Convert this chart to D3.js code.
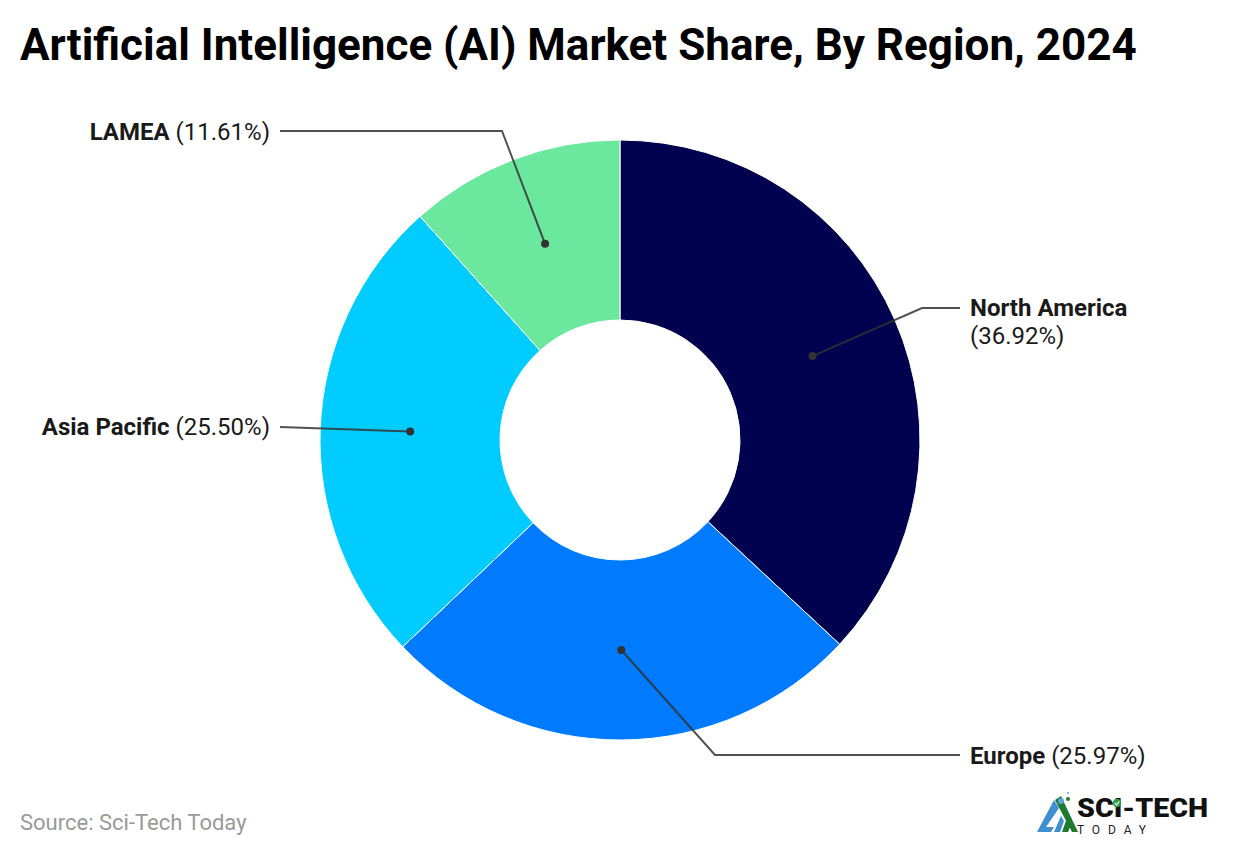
<!DOCTYPE html>
<html>
<head>
<meta charset="utf-8">
<script src="https://cdnjs.cloudflare.com/ajax/libs/d3/7.8.5/d3.min.js"></script>
<style>
  html, body { margin: 0; padding: 0; background: #fff; }
  svg { display: block; font-family: Roboto, sans-serif; }
</style>
</head>
<body>
<div id="chart"></div>
<script>
// data
var regions = ['North America', 'Europe', 'Asia Pacific', 'LAMEA'];
var shares = [36.92, 25.97, 25.50, 11.61];
var colors = ['#000250', '#007bff', '#00ccff', '#6ce89e'];

var width = 1240, height = 856;
var cx = 620, cy = 440, outer = 300, inner = 120;

// callout layout, same order as regions: bend point and end of the line next to the text
var callouts = [
  { bend: [922, 308], end: [960, 308], x: 970, y: 316, anchor: 'start', wrap: true },
  { bend: [715, 755], end: [960, 755], x: 970, y: 764, anchor: 'start' },
  { bend: null,       end: [280, 427], x: 270, y: 435, anchor: 'end' },
  { bend: [502, 131], end: [280, 131], x: 270, y: 140, anchor: 'end' }
];

var svg = d3.select('#chart').append('svg')
  .attr('width', width)
  .attr('height', height);

svg.append('text')
  .attr('x', 20).attr('y', 60)
  .attr('font-size', 44).attr('font-weight', 700).attr('fill', '#000')
  .text('Artificial Intelligence (AI) Market Share, By Region, 2024');

var pie = d3.pie().sort(null).value(function (d) { return d; });
var arcs = pie(shares);
var arc = d3.arc().innerRadius(inner).outerRadius(outer);
var dotArc = d3.arc().innerRadius(210).outerRadius(210);

var g = svg.append('g').attr('transform', 'translate(' + cx + ',' + cy + ')');

g.selectAll('path')
  .data(arcs)
  .enter()
  .append('path')
  .attr('d', arc)
  .attr('fill', function (d, i) { return colors[i]; })
  .attr('stroke', '#fff')
  .attr('stroke-width', 1);

// leader lines
var line = d3.line();
svg.selectAll('.leader')
  .data(arcs)
  .enter()
  .append('path')
  .attr('class', 'leader')
  .attr('fill', 'none')
  .attr('stroke', '#333')
  .attr('stroke-opacity', 0.85)
  .attr('stroke-width', 2)
  .attr('d', function (d, i) {
    var c = dotArc.centroid(d);
    var p = [[c[0] + cx, c[1] + cy]];
    if (callouts[i].bend) p.push(callouts[i].bend);
    p.push(callouts[i].end);
    return line(p);
  });

svg.selectAll('.dot')
  .data(arcs)
  .enter()
  .append('circle')
  .attr('class', 'dot')
  .attr('r', 4)
  .attr('fill', '#333')
  .attr('cx', function (d) { return dotArc.centroid(d)[0] + cx; })
  .attr('cy', function (d) { return dotArc.centroid(d)[1] + cy; });

// labels
regions.forEach(function (name, i) {
  var c = callouts[i];
  var pct = '(' + shares[i].toFixed(2) + '%)';
  var t = svg.append('text')
    .attr('x', c.x).attr('y', c.y)
    .attr('text-anchor', c.anchor)
    .attr('font-size', 24)
    .attr('fill', '#1a1a1a');
  t.append('tspan').attr('font-weight', 700).text(name);
  if (c.wrap) {
    t.append('tspan').attr('x', c.x).attr('dy', 28).text(pct);
  } else {
    t.append('tspan').text(' ' + pct);
  }
});

svg.append('text')
  .attr('x', 20).attr('y', 830)
  .attr('font-size', 22).attr('fill', '#999')
  .text('Source: Sci-Tech Today');

// logo, rough
var logo = svg.append('g').attr('transform', 'translate(1037,794)');
logo.append('path').attr('d', 'M0 38 L17 6 L22 14 L9 33 L17 33 L14 38 Z').attr('fill', '#3d8fd1');
logo.append('path').attr('d', 'M17 38 L24 22 L27 27 L23 38 Z').attr('fill', '#3d8fd1');
logo.append('path').attr('d', 'M18 6 L24 2 L41 38 L35 38 Z').attr('fill', '#1e7a2e');
logo.append('path').attr('d', 'M25 38 L30 24 L34 31 L31 38 Z').attr('fill', '#1e7a2e');
logo.append('circle').attr('cx', 24).attr('cy', 7).attr('r', 3).attr('fill', '#5aa6dc');
logo.append('circle').attr('cx', 31).attr('cy', 5).attr('r', 2).attr('fill', '#1e7a2e');
logo.append('circle').attr('cx', 31).attr('cy', -1).attr('r', 1).attr('fill', '#5aa6dc');
logo.append('text')
  .attr('x', 40).attr('y', 23)
  .attr('font-size', 26).attr('font-weight', 900).attr('fill', '#111')
  .attr('textLength', 131).attr('lengthAdjust', 'spacingAndGlyphs')
  .text('SCI-TECH');
logo.append('circle').attr('cx', 80).attr('cy', 9).attr('r', 4.2).attr('fill', '#2f9e3f');
logo.append('path').attr('d', 'M78 9 L79.5 10.8 L82.3 7.4')
  .attr('fill', 'none').attr('stroke', '#fff').attr('stroke-width', 1.2);
logo.append('text')
  .attr('x', 40).attr('y', 39.5)
  .attr('font-size', 12).attr('fill', '#222')
  .attr('textLength', 69)
  .text('TODAY');
</script>
</body>
</html>
